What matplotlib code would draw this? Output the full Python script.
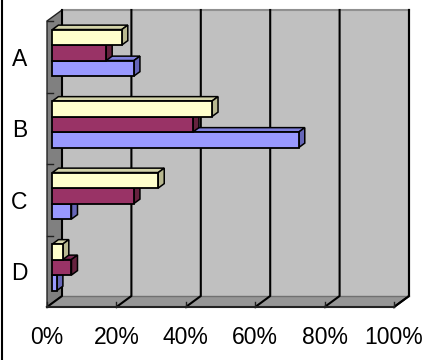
import matplotlib
matplotlib.use("Agg")
import matplotlib.pyplot as plt
from matplotlib.patches import Polygon
from matplotlib.lines import Line2D

categories = ["A", "B", "C", "D"]
yellow_vals = [20, 46, 30.5, 3]
maroon_vals = [15.5, 40.5, 23.5, 5.5]
blue_vals = [23.5, 71, 5.5, 1.3]
xticks = [0, 20, 40, 60, 80, 100]
xtick_labels = ["0%", "20%", "40%", "60%", "80%", "100%"]

series = [yellow_vals, maroon_vals, blue_vals]
front_cols = ["#FFFFCC", "#993366", "#9999FF"]
top_cols = ["#D4D4AA", "#7A2952", "#8080DD"]
side_cols = ["#B8B890", "#66223F", "#6666B8"]

fig = plt.figure(figsize=(4.3, 3.6), dpi=100)
ax = fig.add_axes([47 / 430, 53 / 360, 347 / 430, 286 / 360])
ncat = len(categories)
ax.set_xlim(0, 100)
ax.set_ylim(ncat - 0.5, -0.5)
ax.patch.set_visible(False)
for s in ax.spines.values():
    s.set_visible(False)

# depth vector of the 3d box: 15 px right, 11 px up, in data units
ddx = 15 * 100 / 347
ddy = -11 * ncat / 286


def P(x, y, f):
    return (x + f * ddx, y + f * ddy)


bot, top = ncat - 0.5, -0.5

# walls and floor
back = Polygon([P(0, bot, 1), P(100, bot, 1), P(100, top, 1), P(0, top, 1)],
               fc="#C0C0C0", ec="none", zorder=1, clip_on=False)
left = Polygon([P(0, bot, 0), P(0, top, 0), P(0, top, 1), P(0, bot, 1)],
               fc="#808080", ec="#222222", lw=1, zorder=2, clip_on=False)
floor = Polygon([P(0, bot, 0), P(100, bot, 0), P(100, bot, 1), P(0, bot, 1)],
                fc="#969696", ec="none", zorder=2, clip_on=False)
for p in (back, left, floor):
    ax.add_patch(p)

ax.plot(*zip(P(0, top, 1), P(100, top, 1)), color="#909090", lw=1.5, zorder=3, clip_on=False)
ax.plot(*zip(P(100, top, 1), P(100, bot, 1), P(100, bot, 0)), color="#111111", lw=1.5,
        zorder=3, clip_on=False)
ax.plot(*zip(P(0, bot, 1), P(100, bot, 1)), color="#707070", lw=1, zorder=3, clip_on=False)
for t in xticks:
    ax.plot(*zip(P(t, top, 1), P(t, bot, 1), P(t, bot, 0)), color="black", lw=1.5,
            zorder=3, clip_on=False)
    ax.plot([t, t], [bot, bot - 5 * ncat / 286], color="#222222", lw=1, zorder=3, clip_on=False)
ax.plot([0, 100], [bot, bot], color="#222222", lw=1.5, zorder=3, clip_on=False)
for yb in [top + i for i in range(ncat)]:
    ax.plot([0, 1.6], [yb, yb], color="#222222", lw=1, zorder=3, clip_on=False)

# bars (front faces through barh, 3d faces as polygons)
h = 15.5 / 71.5
f0, f1 = 0.36, 0.76
for s, vals in enumerate(series):
    ys = [c + (s - 1) * h + f0 * ddy for c in range(ncat)]
    bars = ax.barh(ys, vals, height=h, left=f0 * ddx, color=front_cols[s],
                   edgecolor="black", linewidth=1.3, clip_on=False)
    for c, (rect, v) in enumerate(zip(bars, vals)):
        k = (ncat - 1 - c) * 3 + (2 - s)
        z = 10 + k * 0.1
        rect.set_zorder(z + 0.05)
        y0 = c + (s - 1) * h
        y_top, y_bot = y0 - h / 2, y0 + h / 2
        topface = Polygon([P(0, y_top, f0), P(v, y_top, f0), P(v, y_top, f1), P(0, y_top, f1)],
                          fc=top_cols[s], ec="black", lw=1.1, zorder=z, clip_on=False)
        side = Polygon([P(v, y_top, f0), P(v, y_bot, f0), P(v, y_bot, f1), P(v, y_top, f1)],
                       fc=side_cols[s], ec="black", lw=1.1, zorder=z, clip_on=False)
        ax.add_patch(topface)
        ax.add_patch(side)

ax.set_xticks(xticks, xtick_labels, fontsize=16.5,
              family=["Liberation Sans Narrow", "Liberation Sans"])
ax.set_yticks(range(ncat), categories, fontsize=16.5, family="Liberation Sans")
ax.tick_params(length=0)
ax.tick_params(axis="x", pad=14)
ax.tick_params(axis="y", pad=14)

fig.add_artist(Line2D([1.5 / 430, 1.5 / 430], [0, 1], transform=fig.transFigure,
                      color="black", lw=1.5))

fig.savefig("out.png", dpi=100)
